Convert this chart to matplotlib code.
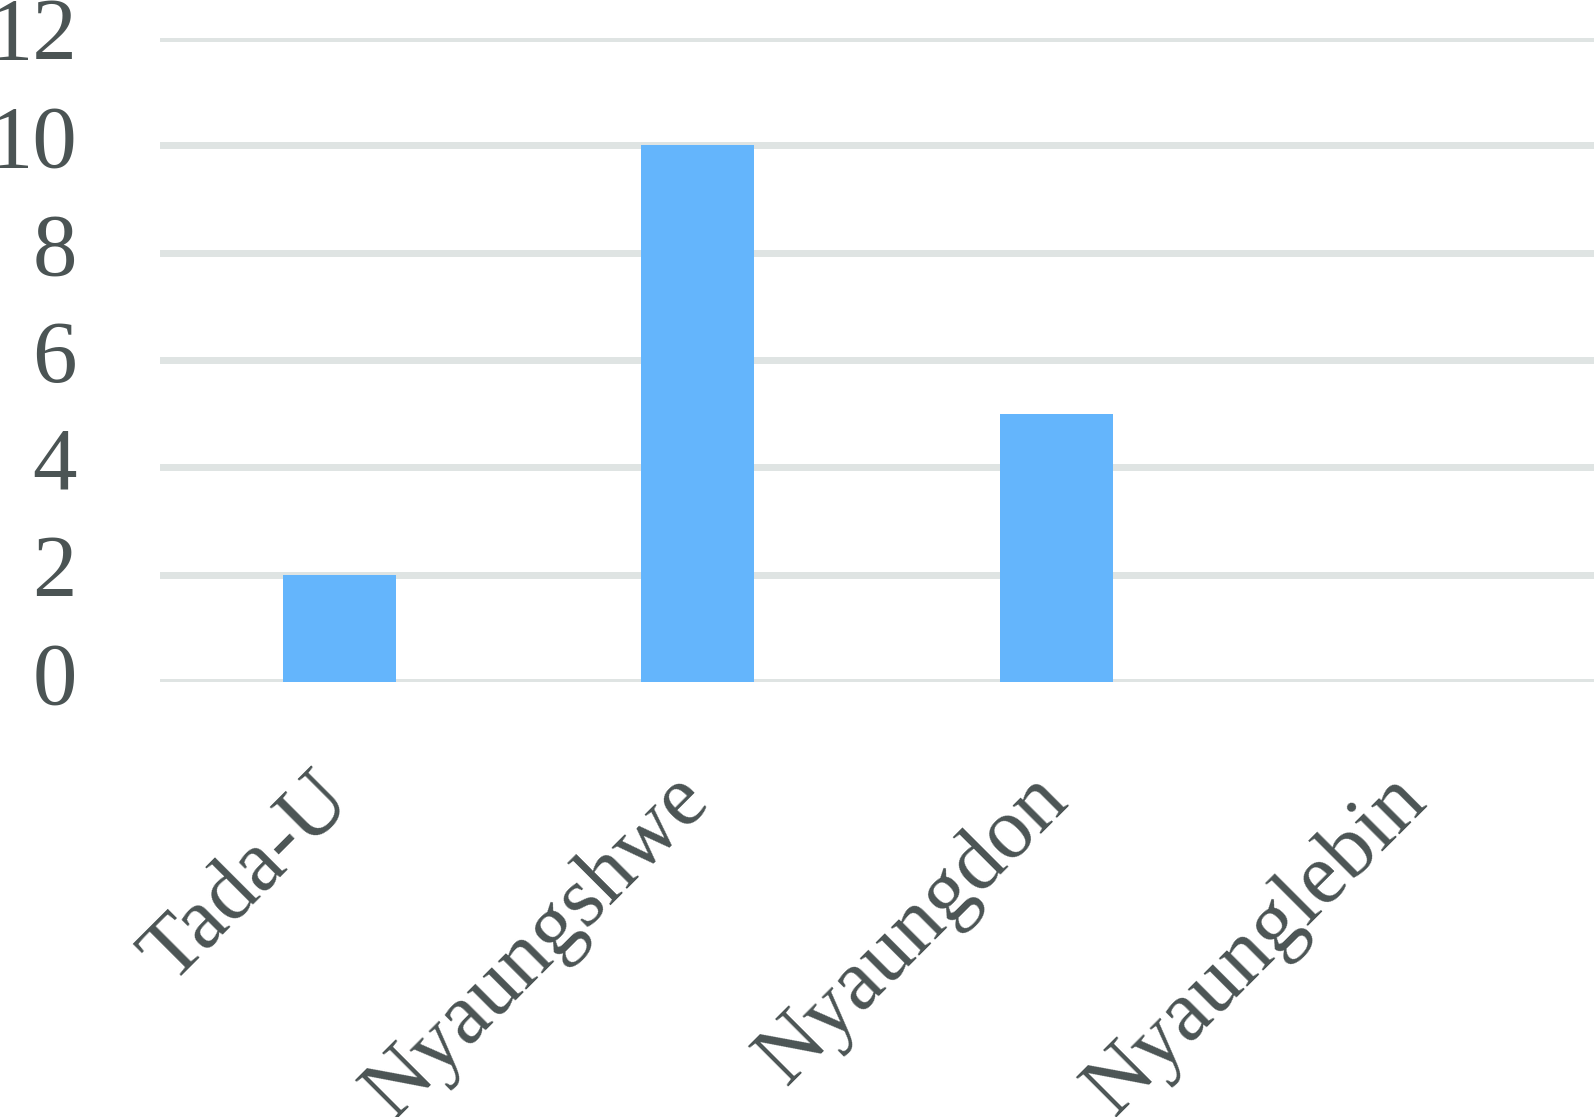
import numpy as np
import matplotlib
matplotlib.use('Agg')

import matplotlib.pyplot as plt
import matplotlib.transforms as mtransforms

towns = ['Tada-U', 'Nyaungshwe', 'Nyaungdon', 'Nyaunglebin']
counts = [2, 10, 5, 0]
y_ticks = [0, 2, 4, 6, 8, 10, 12]

text_col = '#4b5454'
grid_col = '#dfe4e3'
bar_col = '#64b5fc'

plt.rcParams['font.family'] = ['Liberation Serif', 'DejaVu Serif']

fig = plt.figure(figsize=(15.94, 11.17), dpi=100)
ax = fig.add_axes([0.1004, 0.3894, 0.8996, 0.5766])

x = np.arange(len(towns))
ax.bar(x, counts, width=0.315, color=bar_col, zorder=2)

ax.set_xlim(-0.5, 3.5)
ax.set_ylim(0, 12)
ax.set_yticks(y_ticks)
ax.set_yticklabels([str(v) for v in y_ticks])
ax.set_xticks(x)
ax.set_xticklabels(towns, rotation=45, ha='right', rotation_mode='anchor')

ax.grid(axis='y', color=grid_col, linewidth=5, zorder=1)
ax.set_axisbelow(True)
for s in ax.spines.values():
    s.set_visible(False)
ax.tick_params(axis='both', length=0, colors=text_col, labelsize=64)
ax.tick_params(axis='y', pad=60)
ax.tick_params(axis='x', labelsize=62, pad=56)
for lab in ax.get_yticklabels():
    lab.set_verticalalignment('center')

shift = mtransforms.ScaledTranslation(-21 / 72, 0, fig.dpi_scale_trans)
for lab in ax.get_xticklabels():
    lab.set_transform(lab.get_transform() + shift)

fig.savefig('out.png', dpi=100)
